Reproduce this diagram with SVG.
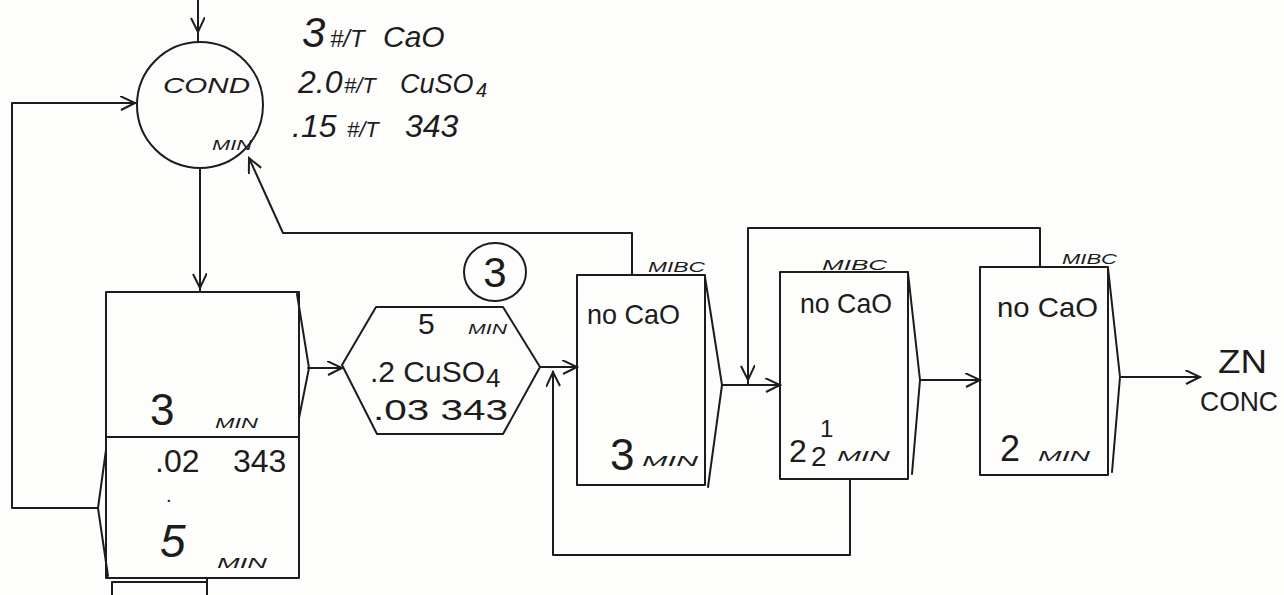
<svg xmlns="http://www.w3.org/2000/svg" width="1284" height="595" viewBox="0 0 1284 595">
<style>
.ln{fill:none;stroke:#1c1c1c;stroke-width:2;stroke-linejoin:round;stroke-linecap:round}
.t{font-family:"Liberation Sans",Arial,sans-serif;fill:#1c1c1c}
.hw{font-family:"Liberation Sans",Arial,sans-serif;font-style:italic;fill:#1c1c1c}
.sm{font-size:15px}
</style>
<defs>
<marker id="ah" markerUnits="userSpaceOnUse" markerWidth="18" markerHeight="16" refX="15" refY="7" orient="auto" viewBox="0 0 18 16">
<path d="M0,0 L15,7 L1,14" fill="none" stroke="#1c1c1c" stroke-width="2"/>
</marker>
</defs>
<rect width="1284" height="595" fill="#fdfdfc"/>

<g id="connectors" class="ln">
<path d="M198,0 V32" marker-end="url(#ah)"/>
<path d="M198,32 V42"/>
<path d="M98,508 H12 V103 H135" marker-end="url(#ah)"/>
<path d="M200,168 V288" marker-end="url(#ah)"/>
<path d="M200,288 V292"/>
<path d="M308,368 H342" marker-end="url(#ah)"/>
<path d="M540,367 H577" marker-end="url(#ah)"/>
<path d="M850,479 V555 H553 V372" marker-end="url(#ah)"/>
<path d="M632,275 V233 H283 L249,158" marker-end="url(#ah)"/>
<path d="M722,385 H780" marker-end="url(#ah)"/>
<path d="M1040,267 V228 H748 V380" marker-end="url(#ah)"/>
<path d="M748,380 V385"/>
<path d="M920,380 H980" marker-end="url(#ah)"/>
<path d="M1120,377 H1200" marker-end="url(#ah)"/>
<path d="M112,595 V582 H207"/>
<path d="M207,578 V595"/>
</g>

<g id="cond">
<circle cx="200" cy="105" r="63" class="ln"/>
<text class="hw" x="163" y="93" font-size="22" textLength="87" lengthAdjust="spacingAndGlyphs">COND</text>
<text class="hw" x="212" y="150" font-size="15" textLength="40" lengthAdjust="spacingAndGlyphs">MIN</text>
</g>

<g id="reagents">
<text class="hw" y="47"><tspan x="302" font-size="42">3</tspan><tspan x="330" font-size="24">#/T</tspan><tspan x="383" font-size="30">CaO</tspan></text>
<text class="hw" y="93"><tspan x="298" font-size="32">2.0</tspan><tspan x="344" font-size="22">#/T</tspan><tspan x="400" font-size="27">CuSO</tspan><tspan x="476" font-size="20" dy="4">4</tspan></text>
<text class="hw" y="137"><tspan x="292" font-size="32">.15</tspan><tspan x="347" font-size="22">#/T</tspan><tspan x="405" font-size="32">343</tspan></text>
</g>

<g id="cell1">
<rect x="106" y="292" width="193" height="286" class="ln"/>
<path d="M106,437 H299" class="ln"/>
<path d="M297,294 L309,368 L299,418" class="ln"/>
<path d="M106,450 L98,508 L108,576" class="ln"/>
<text class="t" x="150" y="425" font-size="44">3</text>
<text class="hw sm" x="215" y="428" textLength="43" lengthAdjust="spacingAndGlyphs">MIN</text>
<text class="t" x="155" y="472" font-size="32">.02</text>
<text class="t" x="233" y="472" font-size="32">343</text>
<text class="t" x="166" y="502" font-size="20">.</text>
<text class="hw" x="160" y="557" font-size="46">5</text>
<text class="hw sm" x="217" y="568" textLength="50" lengthAdjust="spacingAndGlyphs">MIN</text>
</g>

<g id="cell2">
<polygon points="376,307 503,307 540,367 503,434 377,434 342,365" class="ln"/>
<text class="t" x="418" y="334" font-size="30">5</text>
<text class="hw sm" x="468" y="334" textLength="39" lengthAdjust="spacingAndGlyphs">MIN</text>
<text class="t" y="382"><tspan x="370" font-size="30">.2 CuSO</tspan><tspan x="486" font-size="26" dy="5">4</tspan></text>
<text class="t" x="373" y="420" font-size="30" textLength="135" lengthAdjust="spacingAndGlyphs">.03 343</text>
</g>

<g id="label3">
<ellipse cx="495" cy="272" rx="31" ry="29" class="ln"/>
<text class="t" x="495" y="287" font-size="42" text-anchor="middle">3</text>
</g>

<g id="cell3">
<rect x="577" y="275" width="128" height="210" class="ln"/>
<path d="M705,277 L722,385 L708,487" class="ln"/>
<text class="hw sm" x="648" y="272" textLength="57" lengthAdjust="spacingAndGlyphs">MIBC</text>
<text class="t" x="587" y="324" font-size="28" textLength="93" lengthAdjust="spacingAndGlyphs">no CaO</text>
<text class="t" x="610" y="470" font-size="44">3</text>
<text class="hw sm" x="642" y="466" textLength="56" lengthAdjust="spacingAndGlyphs">MIN</text>
</g>

<g id="cell4">
<rect x="780" y="272" width="128" height="207" class="ln"/>
<path d="M908,273 L920,380 L912,474" class="ln"/>
<text class="hw sm" x="822" y="270" textLength="65" lengthAdjust="spacingAndGlyphs">MIBC</text>
<text class="t" x="800" y="313" font-size="28" textLength="92" lengthAdjust="spacingAndGlyphs">no CaO</text>
<text class="t" x="789" y="462" font-size="32">2</text>
<text class="t" x="820" y="437" font-size="24">1</text>
<text class="t" x="811" y="466" font-size="28">2</text>
<text class="hw sm" x="837" y="461" textLength="53" lengthAdjust="spacingAndGlyphs">MIN</text>
</g>

<g id="cell5">
<rect x="980" y="267" width="128" height="208" class="ln"/>
<path d="M1108,268 L1120,377 L1112,472" class="ln"/>
<text class="hw sm" x="1062" y="264" textLength="55" lengthAdjust="spacingAndGlyphs">MIBC</text>
<text class="t" x="997" y="317" font-size="28" textLength="101" lengthAdjust="spacingAndGlyphs">no CaO</text>
<text class="t" x="1000" y="461" font-size="36">2</text>
<text class="hw sm" x="1038" y="461" textLength="52" lengthAdjust="spacingAndGlyphs">MIN</text>
</g>

<g id="output">
<text class="t" x="1218" y="373" font-size="34" textLength="49" lengthAdjust="spacingAndGlyphs">ZN</text>
<text class="t" x="1200" y="411" font-size="28" textLength="78" lengthAdjust="spacingAndGlyphs">CONC</text>
</g>
</svg>
